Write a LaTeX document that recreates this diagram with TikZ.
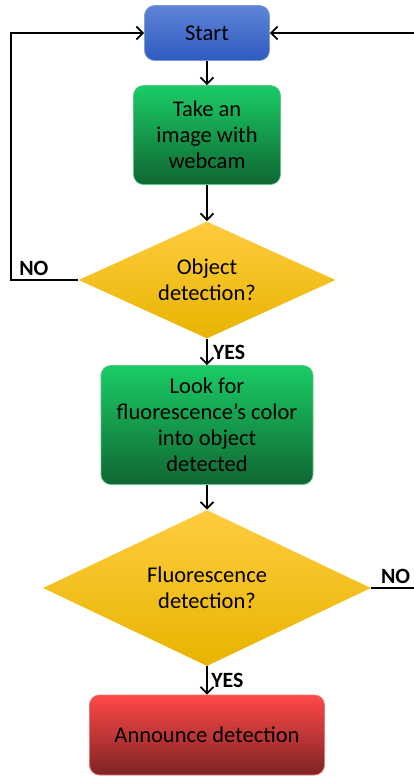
\documentclass[tikz,border=0pt]{standalone}
\usepackage{fontspec}
\setmainfont{Carlito}
\usepackage{tikz}
\usetikzlibrary{arrows.meta,shapes,calc,positioning}
\definecolor{startTop}{RGB}{94,132,214}
\definecolor{startBot}{RGB}{48,90,192}
\definecolor{greenTop}{RGB}{26,204,102}
\definecolor{greenMid}{RGB}{22,170,84}
\definecolor{greenBot}{RGB}{16,102,50}
\definecolor{goldTop}{RGB}{255,204,64}
\definecolor{goldMid}{RGB}{255,194,0}
\definecolor{goldBot}{RGB}{232,180,0}
\definecolor{redTop}{RGB}{255,72,72}
\definecolor{redMid}{RGB}{220,58,58}
\definecolor{redBot}{RGB}{126,36,36}
\tikzstyle{block}   =[rectangle, rounded corners=0.2cm, align=center,
                      line width=0.4pt, inner sep=2pt,
                      font=\fontsize{12.8}{14.8}\selectfont]
\tikzstyle{decision}=[diamond, shape aspect=2.1, inner sep=0pt,
                      align=center, top color=goldTop,
                      middle color=goldMid, bottom color=goldBot,
                      font=\fontsize{12.8}{14.8}\selectfont]
\tikzstyle{flow}    =[->, >={Straight Barb[length=1.3mm,width=2.6mm]},
                      line width=1pt]
\tikzstyle{answer}  =[font=\bfseries\fontsize{12.4}{14}\selectfont,
                      inner sep=2pt]

\begin{document}
\begin{tikzpicture}[node distance=2cm, on grid]
    \useasboundingbox (0,0) rectangle (8.28,-15.52);

    \node[block, draw=startBot!60!white, top color=startTop, bottom color=startBot,
          minimum width=2.5cm, minimum height=1.1cm] (start) at (4.14,-0.66) {Start};
    \node[block, draw=greenMid!70!white, top color=greenTop, middle color=greenMid,
          bottom color=greenBot, minimum width=2.94cm, minimum height=1.98cm]
          (take) [below=2.04 of start] {Take an\\image with\\webcam};
    \node[decision, minimum width=5.14cm, minimum height=2.34cm]
          (obj) [below=2.9 of take] {Object\\detection?};
    \node[block, draw=greenMid!70!white, top color=greenTop, middle color=greenMid,
          bottom color=greenBot, minimum width=4.24cm, minimum height=2.38cm]
          (look) [below=2.9 of obj] {Look for\\fluorescence’s color\\into object\\detected};
    \node[decision, minimum width=6.56cm, minimum height=3.12cm]
          (fluo) [below=3.26 of look] {Fluorescence\\detection?};
    \node[block, draw=redMid!70!white, top color=redTop, middle color=redMid,
          bottom color=redBot, minimum width=4.7cm, minimum height=1.6cm]
          (ann) [below=2.94 of fluo] {Announce detection};

    \coordinate (leftx) at (0.22,0);
    \coordinate (rightx) at (8.4,0);

    \draw[flow] (start) -- (take);
    \draw[flow] (take) -- (obj);
    \draw[flow] (obj) -- node[answer, right, xshift=1pt] {YES} (look);
    \draw[flow] (look) -- (fluo);
    \draw[flow] (fluo) -- node[answer, right] {YES} (ann);
    \draw[flow] (obj.west) -- node[answer, above, pos=0.66] {NO} (leftx |- obj.west)
                |- (start.west);
    \draw[flow] (fluo.east) -- node[answer, above] {NO} (rightx |- fluo.east)
                |- (start.east);
\end{tikzpicture}
\end{document}
